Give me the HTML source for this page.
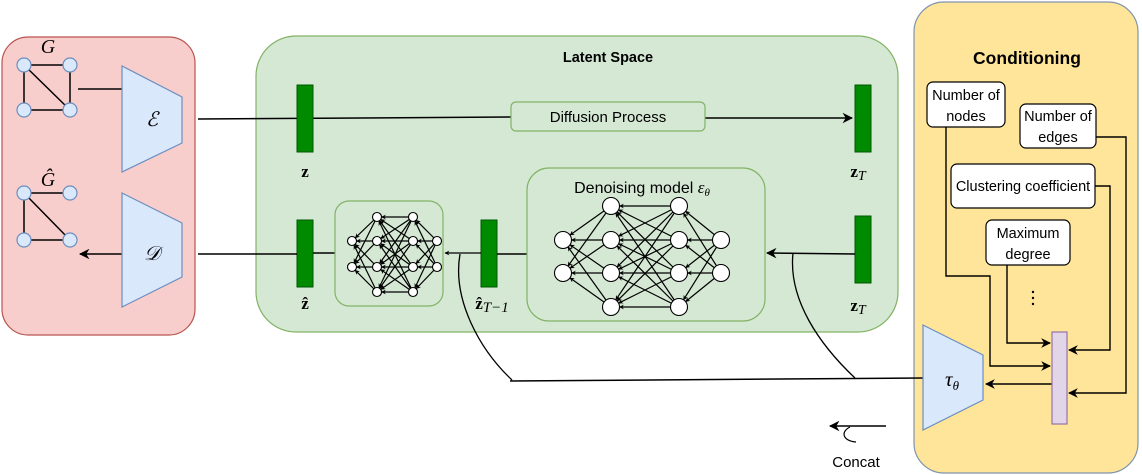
<!DOCTYPE html>
<html><head><meta charset="utf-8"><style>
html,body{margin:0;padding:0;background:#fff;}
svg{display:block;font-family:"Liberation Sans",sans-serif;}
.m{font-family:"Liberation Serif",serif;font-style:italic;}
</style></head><body>
<svg id="s" width="1142" height="475" viewBox="0 0 1142 475" xmlns="http://www.w3.org/2000/svg">
<defs>
<marker id="a" viewBox="0 0 10 10" refX="9" refY="5" markerWidth="7" markerHeight="7" orient="auto"><path d="M0,0 L10,5 L0,10 L3,5 z" fill="#000"/></marker>
<marker id="sa" viewBox="0 0 10 10" refX="9" refY="5" markerWidth="4" markerHeight="4" orient="auto"><path d="M0,0 L10,5 L0,10 L3,5 z" fill="#000"/></marker>
</defs>
<rect x="2" y="37" width="193" height="298" rx="26" fill="#f8cecc" stroke="#b85450" stroke-width="1.2"/>
<rect x="256" y="36" width="642" height="296" rx="40" fill="#d5e8d4" stroke="#82b366" stroke-width="1.2"/>
<rect x="914" y="2" width="224" height="471" rx="30" fill="#ffe599" stroke="#7f95ad" stroke-width="1.2"/>
<text x="48" y="53" class="m" font-size="20" text-anchor="middle">G</text>
<g stroke="#000" stroke-width="1.5">
<line x1="24" y1="65" x2="70" y2="65"/><line x1="24" y1="65" x2="24" y2="110"/><line x1="24" y1="110" x2="70" y2="110"/><line x1="70" y1="65" x2="70" y2="110"/><line x1="24" y1="65" x2="70" y2="110"/>
<line x1="24" y1="193" x2="70" y2="193"/><line x1="24" y1="193" x2="24" y2="240"/><line x1="24" y1="240" x2="70" y2="240"/><line x1="24" y1="193" x2="70" y2="240"/>
</g>
<g fill="#dae8fc" stroke="#6c8ebf" stroke-width="1.2">
<circle cx="24" cy="65" r="7"/><circle cx="70" cy="65" r="7"/><circle cx="24" cy="110" r="7"/><circle cx="70" cy="110" r="7"/>
<circle cx="24" cy="193" r="7"/><circle cx="70" cy="193" r="7"/><circle cx="24" cy="240" r="7"/><circle cx="70" cy="240" r="7"/>
</g>
<text x="48" y="186" class="m" font-size="20" text-anchor="middle">Ĝ</text>
<line x1="78" y1="89" x2="122" y2="89" stroke="#000" stroke-width="1.5"/>
<line x1="122" y1="254" x2="80" y2="254" stroke="#000" stroke-width="1.5" marker-end="url(#a)"/>
<polygon points="122,66 182,97 182,143 122,172" fill="#dae8fc" stroke="#6c8ebf" stroke-width="1.2"/>
<polygon points="122,193 182,223 182,277 122,307" fill="#dae8fc" stroke="#6c8ebf" stroke-width="1.2"/>
<text x="152" y="126" class="m" font-size="20" text-anchor="middle">ℰ</text>
<text x="152" y="260" class="m" font-size="20" text-anchor="middle">𝒟</text>
<text x="608" y="62" font-size="14.5" font-weight="bold" text-anchor="middle">Latent Space</text>
<line x1="198" y1="119" x2="511" y2="117" stroke="#000" stroke-width="1.5"/>
<line x1="705" y1="118" x2="852" y2="118" stroke="#000" stroke-width="1.5" marker-end="url(#a)"/>
<rect x="511" y="102" width="194" height="29" rx="5" fill="#d5e8d4" stroke="#82b366" stroke-width="1.2"/>
<text x="608" y="122" font-size="15" text-anchor="middle">Diffusion Process</text>
<g fill="#008a00" stroke="#005700" stroke-width="1">
<rect x="297" y="85" width="16" height="67"/><rect x="855" y="85" width="16" height="67"/>
<rect x="297" y="220" width="16" height="67"/><rect x="481" y="220" width="16" height="67"/><rect x="855" y="216" width="16" height="67"/>
</g>
<text x="305" y="177" font-family="Liberation Serif,serif" font-weight="bold" font-size="17" text-anchor="middle">z</text>
<text x="858" y="177" font-family="Liberation Serif,serif" font-weight="bold" font-size="17" text-anchor="middle">z<tspan class="m" font-weight="normal" font-size="14" dy="3">T</tspan></text>
<text x="305" y="309" font-family="Liberation Serif,serif" font-weight="bold" font-size="17" text-anchor="middle">ẑ</text>
<text x="492" y="309" font-family="Liberation Serif,serif" font-weight="bold" font-size="17" text-anchor="middle">ẑ<tspan class="m" font-weight="normal" font-size="15" dy="3">T−1</tspan></text>
<text x="858" y="311" font-family="Liberation Serif,serif" font-weight="bold" font-size="17" text-anchor="middle">z<tspan class="m" font-weight="normal" font-size="14" dy="3">T</tspan></text>
<line x1="198" y1="254" x2="297" y2="254" stroke="#000" stroke-width="1.5"/>
<line x1="313" y1="253" x2="335" y2="253" stroke="#000" stroke-width="1.5"/>
<line x1="481" y1="253" x2="445" y2="253" stroke="#000" stroke-width="1.2" marker-end="url(#sa)"/>
<line x1="497" y1="254" x2="527" y2="254" stroke="#000" stroke-width="1.5"/>
<line x1="855" y1="254" x2="767" y2="253" stroke="#000" stroke-width="1.5" marker-end="url(#a)"/>
<rect x="335" y="201" width="108" height="105" rx="14" fill="#d5e8d4" stroke="#82b366" stroke-width="1.2"/>
<rect x="527" y="168" width="238" height="153" rx="22" fill="#d5e8d4" stroke="#82b366" stroke-width="1.2"/>
<text x="642" y="193" font-size="16" text-anchor="middle">Denoising model <tspan class="m" font-size="17">ε<tspan font-size="11" dy="3">θ</tspan></tspan></text>
<g id="nets"></g>
<path d="M460,254 C452,300 480,350 512,380" fill="none" stroke="#000" stroke-width="1.3"/>
<path d="M793,253 C788,300 820,345 855,378" fill="none" stroke="#000" stroke-width="1.3"/>
<line x1="510" y1="381" x2="923" y2="378" stroke="#000" stroke-width="1.5"/>
<line x1="886" y1="426" x2="830" y2="426" stroke="#000" stroke-width="1.5" marker-end="url(#a)"/>
<path d="M850,427 C840,432 843,441 856,442" fill="none" stroke="#000" stroke-width="1.2"/>
<text x="856" y="467" font-size="15" text-anchor="middle">Concat</text>
<text x="1027" y="64" font-size="17.5" font-weight="bold" text-anchor="middle">Conditioning</text>
<g fill="none" stroke="#000" stroke-width="1.4">
<polyline points="946,127 946,276 990,276 990,366 1050,366" marker-end="url(#a)"/>
<polyline points="1007,265 1007,343 1050,343" marker-end="url(#a)"/>
<polyline points="1095,186 1110,186 1110,350 1069,350" marker-end="url(#a)"/>
<polyline points="1096,137 1126,137 1126,393 1069,393" marker-end="url(#a)"/>
<line x1="1053" y1="384" x2="986" y2="384" marker-end="url(#a)"/>
</g>
<g fill="#fff" stroke="#000" stroke-width="1.2">
<rect x="927" y="82" width="78" height="45" rx="6"/>
<rect x="1020" y="104" width="76" height="44" rx="6"/>
<rect x="951" y="164" width="144" height="44" rx="6"/>
<rect x="986" y="220" width="84" height="45" rx="6"/>
</g>
<g font-size="14.5" text-anchor="middle">
<text x="966" y="100">Number of</text><text x="966" y="121">nodes</text>
<text x="1058" y="121">Number of</text><text x="1058" y="142">edges</text>
<text x="1023" y="191">Clustering coefficient</text>
<text x="1028" y="238">Maximum</text><text x="1028" y="259">degree</text>
</g>
<g fill="#000"><circle cx="1033" cy="292" r="1.2"/><circle cx="1033" cy="298" r="1.2"/><circle cx="1033" cy="304" r="1.2"/></g>
<rect x="1052" y="332" width="15" height="92" fill="#e1d5e7" stroke="#9673a6" stroke-width="1.2"/>
<polygon points="923,325 983,355 983,400 923,430" fill="#dae8fc" stroke="#6c8ebf" stroke-width="1.2"/>
<text x="952" y="386" class="m" font-size="21" text-anchor="middle">τ<tspan font-size="13" dy="4">θ</tspan></text>
</svg>
<script>
(function(){
var g=document.getElementById('nets');
function net(xs,r4,r2,rad,mk){
 var L=[[xs[0],r2],[xs[1],r4],[xs[2],r4],[xs[3],r2]],h='';
 for(var i=0;i<3;i++){var A=L[i],B=L[i+1];
  A[1].forEach(function(ya){B[1].forEach(function(yb){
   var dx=A[0]-B[0],dy=ya-yb,d=Math.sqrt(dx*dx+dy*dy),k=rad/d;
   h+='<line x1="'+(B[0])+'" y1="'+yb+'" x2="'+(A[0]-dx*k)+'" y2="'+(ya-dy*k)+'" stroke="#000" stroke-width="1.2" marker-end="url(#'+mk+')"/>';
  });});}
 L.forEach(function(c){c[1].forEach(function(y){h+='<circle cx="'+c[0]+'" cy="'+y+'" r="'+rad+'" fill="#fff" stroke="#000" stroke-width="1.1"/>';});});
 return h;}
g.innerHTML=net([352,377,413,437],[217,241,267,292],[241,267],4.5,'sa')+net([563,611,679,721],[206,240,273,307],[240,273],8.5,'sa');
})();
</script>
</body></html>
